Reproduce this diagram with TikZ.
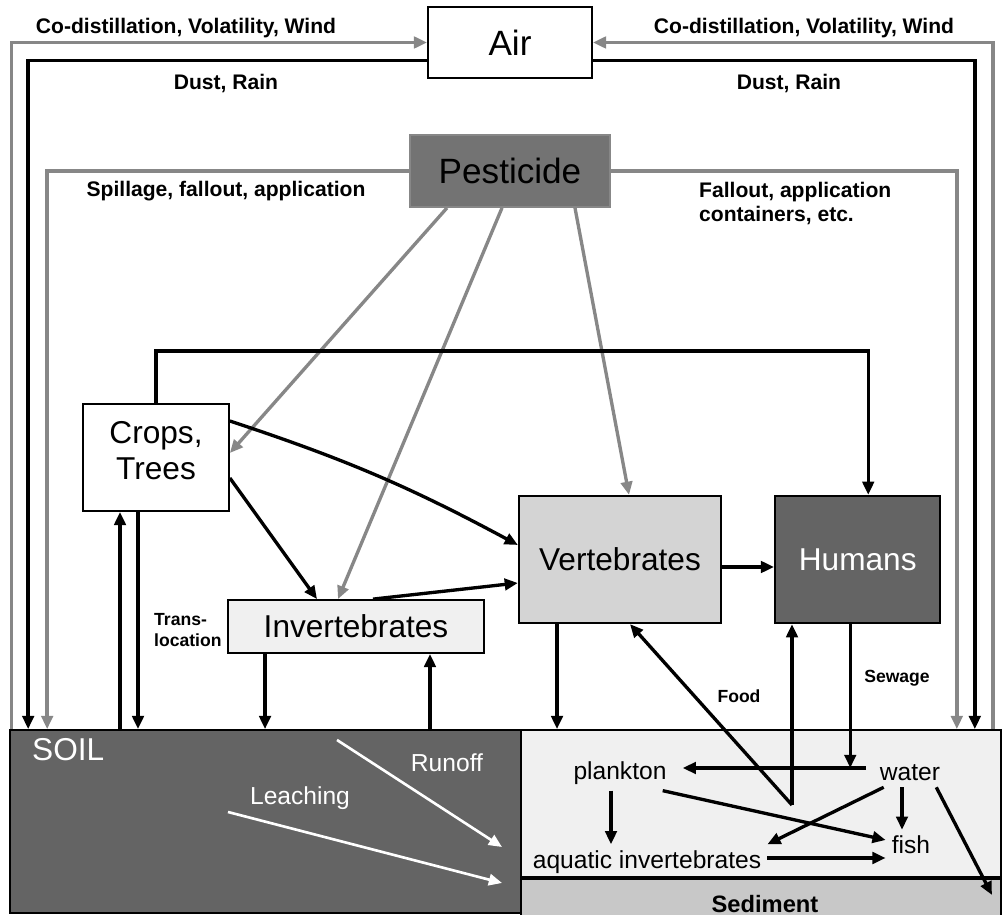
\documentclass[tikz,border=0pt]{standalone}
\usepackage{fontspec}
\setmainfont{Liberation Sans}
\usetikzlibrary{arrows.meta, positioning}
\definecolor{linegray}{RGB}{135,135,135}
\definecolor{darkfill}{RGB}{100,100,100}
\definecolor{pestfill}{RGB}{115,115,115}
\definecolor{vertfill}{RGB}{212,212,212}
\definecolor{stipple}{RGB}{240,240,240}
\definecolor{sedfill}{RGB}{200,200,200}

\begin{document}
\begin{tikzpicture}[x=0.02cm, y=-0.02cm,
    box/.style={draw, rectangle, line width=1pt, inner sep=0pt, font=\fontsize{18}{20.5}\selectfont},
    conn/.style={line width=1.9pt, -{Triangle[length=7.5pt,width=6.5pt]}},
    gconn/.style={conn, draw=linegray},
    lab/.style={font=\fontsize{12}{14}\selectfont\bfseries},
    small/.style={font=\fontsize{10}{11.5}\selectfont\bfseries},
    aqua/.style={font=\fontsize{14}{16}\selectfont}]
    \useasboundingbox (0,0) rectangle (1002,915);

    % boxes
    \node[box, minimum width=3.28cm, minimum height=1.42cm, font=\fontsize{20}{24}\selectfont] (air) at (510,42.5) {Air};
    \node[box, draw=linegray, fill=pestfill, minimum width=4cm, minimum height=1.44cm, font=\fontsize{20}{24}\selectfont] (pest) at (510,171) {Pesticide};
    \node[box, align=center, minimum width=2.92cm, minimum height=2.14cm] (crops) at (156,457.5) {Crops,\\Trees\\[-12pt]};
    \node[box, fill=stipple, minimum width=5.12cm, minimum height=1.06cm] (invert) at (356,626.5) {Invertebrates};
    \node[box, fill=vertfill, line width=1.3pt, minimum width=4.04cm, minimum height=2.54cm] (vert) at (620,559.5) {Vertebrates};
    \node[box, fill=darkfill, text=white, line width=1.3pt, minimum width=3.3cm, minimum height=2.54cm, right=1.04cm of vert] (hum) {Humans};
    \node[box, fill=darkfill, minimum width=10.22cm, minimum height=3.66cm] (soil) at (265.5,821.5) {};
    \node[box, fill=stipple, minimum width=9.6cm, minimum height=2.94cm] (water) at (761,803.5) {};
    \node[box, fill=sedfill, minimum width=9.6cm, minimum height=0.8cm, below=0pt of water] (sedbox) {};

    % texts in soil and water
    \node[font=\fontsize{18}{21}\selectfont, text=white, anchor=west] (soillab) at (26,750) {SOIL};
    \node[aqua, text=white] (runlab) at (447,763) {Runoff};
    \node[aqua, text=white] (leachlab) at (300,798) {Leaching};
    \node[aqua] (plank) at (620,773) {plankton};
    \node[aqua] (wat) at (910,773) {water};
    \node[aqua] (fish) at (911,845) {fish};
    \node[aqua] (aqinv) at (647,862) {aquatic invertebrates};
    \node[font=\fontsize{13.5}{16}\selectfont\bfseries] (sed) at (765,904) {Sediment};

    % labels
    \node[lab] (codistl) at (186,28) {Co-distillation, Volatility, Wind};
    \node[lab] (codistr) at (804,28) {Co-distillation, Volatility, Wind};
    \node[lab] (dustl) at (226,83) {Dust, Rain};
    \node[lab] (dustr) at (789,83) {Dust, Rain};
    \node[lab] (spill) at (226,191) {Spillage, fallout, application};
    \node[lab, align=left, anchor=west] (fallout) at (693,203.5) {Fallout, application\\containers, etc.};
    \node[small, align=left, anchor=west] (transloc) at (148,630) {Trans-\\location};
    \node[small] (food) at (739,696) {Food};
    \node[small] (sewage) at (897,678) {Sewage};

    % air and pesticide loops
    \draw[gconn] ([xshift=0.04cm]soil.north west) |- (air.west);
    \draw[conn] ([yshift=-0.36cm]air.west) -| ([xshift=0.38cm]soil.north west);
    \draw[gconn] (pest.west) -| ([xshift=0.76cm]soil.north west);
    \draw[gconn] ([xshift=-0.18cm]water.north east) |- (air.east);
    \draw[conn] ([yshift=-0.36cm]air.east) -| ([xshift=-0.54cm]water.north east);
    \draw[gconn] (pest.east) -| ([xshift=-0.9cm]water.north east);

    % pesticide to organisms
    \draw[gconn] ([xshift=-1.26cm]pest.south) -- ([yshift=0.09cm]crops.east);
    \draw[gconn] ([xshift=-0.16cm]pest.south) -- ([xshift=-0.36cm]invert.north);
    \draw[gconn] ([xshift=1.3cm]pest.south) -- ([xshift=0.18cm]vert.north);

    % food chain
    \coordinate (toprow) at (500,351);
    \draw[conn] (crops.north) |- (toprow) -| ([xshift=0.21cm]hum.north);
    \draw[conn] ([yshift=0.73cm]crops.east) to[bend left=5] ([yshift=0.29cm]vert.west);
    \draw[conn] ([yshift=-0.41cm]crops.east) -- ([xshift=-0.78cm]invert.north);
    \draw[conn] ([xshift=0.34cm]invert.north) -- ([yshift=-0.47cm]vert.west);
    \draw[conn, line width=2.6pt] ([yshift=-0.15cm]vert.east) -- ([yshift=-0.15cm]hum.west);

    % exchange with soil and water
    \draw[conn] ([xshift=-0.72cm]crops.south |- soil.north) -- ([xshift=-0.72cm]crops.south);
    \draw[conn] ([xshift=-0.36cm]crops.south) -- ([xshift=-0.36cm]crops.south |- soil.north);
    \draw[conn] ([xshift=-1.82cm]invert.south) -- ([xshift=-1.82cm]invert.south |- soil.north);
    \draw[conn] ([xshift=1.48cm]invert.south |- soil.north) -- ([xshift=1.48cm]invert.south);
    \draw[conn] ([xshift=-1.26cm]vert.south) -- ([xshift=-1.26cm]vert.south |- water.north);

    \coordinate (fj) at (792,805);
    \coordinate (tap) at (866,768);
    \draw[conn] (fj) -- ([xshift=0.2cm]vert.south);
    \draw[conn] (fj) -- (fj |- hum.south);
    \draw[conn] ([xshift=-0.15cm]hum.south) -- ([xshift=-0.15cm]hum.south |- tap);
    \draw[conn] (tap) -- ([xshift=0.2cm]tap -| plank.east);

    % inside the water
    \coordinate (sedpt) at (992,895);
    \draw[conn] ([xshift=-0.18cm]plank.south) -- ([xshift=-0.18cm]plank.south |- aqinv.north);
    \draw[conn] ([xshift=-0.2cm]plank.south east) -- ([yshift=0.1cm]fish.west);
    \draw[conn] ([xshift=0.2cm]wat.south west) -- (aqinv.north east);
    \draw[conn] ([xshift=-0.16cm]wat.south) -- ([xshift=-0.16cm]wat.south |- fish.north);
    \draw[conn] ([xshift=-0.2cm]wat.south east) -- (sedpt);
    \draw[conn] ([yshift=0.08cm]aqinv.east) -- ([yshift=0.08cm]aqinv.east -| fish.west);

    % runoff and leaching
    \coordinate (ro1) at (337,740);
    \coordinate (ro2) at (502,847);
    \coordinate (le1) at (228,812);
    \coordinate (le2) at (502,883);
    \draw[conn, white, line width=1.5pt] (ro1) -- (ro2);
    \draw[conn, white, line width=1.5pt] (le1) -- (le2);
\end{tikzpicture}
\end{document}
